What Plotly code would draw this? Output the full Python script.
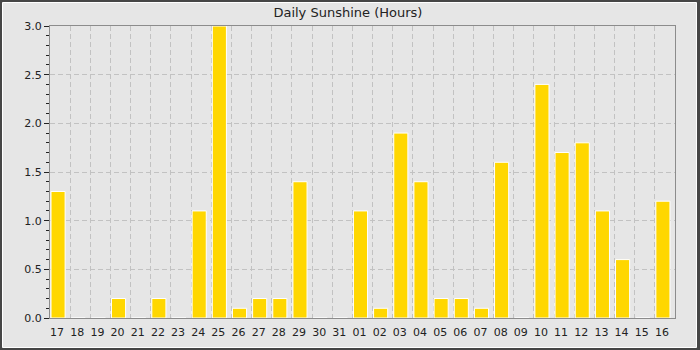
import plotly.graph_objects as go

days = ["17", "18", "19", "20", "21", "22", "23", "24", "25", "26", "27", "28", "29", "30", "31",
        "01", "02", "03", "04", "05", "06", "07", "08", "09", "10", "11", "12", "13", "14", "15", "16"]
sunshine = [1.3, 0.0, 0.0, 0.2, 0.0, 0.2, 0.0, 1.1, 3.0, 0.1, 0.2, 0.2, 1.4, 0.0, 0.0,
            1.1, 0.1, 1.9, 1.4, 0.2, 0.2, 0.1, 1.6, 0.0, 2.4, 1.7, 1.8, 1.1, 0.6, 0.0, 1.2]
y_ticks = [0.0, 0.5, 1.0, 1.5, 2.0, 2.5, 3.0]

W, H = 700, 350
L, R, T, B = 50, 25, 26, 32
pw, ph = W - L - R, H - T - B

def px_x(p):
    return (p - L) / pw

def px_y(p):
    return (H - B - p) / ph

fig = go.Figure()
fig.add_trace(go.Bar(
    x=days, y=sunshine,
    width=0.7, offset=-0.45,
    marker=dict(color="#ffd700", line=dict(color="white", width=1)),
    hoverinfo="x+y",
))

axis_color = "#8c8c8c"
grid_color = "#c2c2c2"
font = dict(family="DejaVu Sans", size=11, color="#222222")

fig.update_layout(
    width=W, height=H,
    margin=dict(l=L, r=R, t=T, b=B, pad=0, autoexpand=False),
    paper_bgcolor="#464646",
    plot_bgcolor="#e6e6e6",
    showlegend=False,
    font=font,
    bargap=0.3,
    title=dict(text="Daily Sunshine (Hours)", xref="container", yref="container",
               x=0.497, y=1 - 12 / H, xanchor="center", yanchor="middle",
               font=dict(family="DejaVu Sans", size=13, color="#222222")),
    shapes=[dict(type="rect", xref="paper", yref="paper", layer="below",
                 x0=px_x(2.5), x1=px_x(696.5), y0=px_y(347.5), y1=px_y(2.5),
                 fillcolor="#e6e6e6", line=dict(color="white", width=1))],
    xaxis=dict(
        type="category", tickson="boundaries", ticks="", showgrid=True,
        gridcolor=grid_color, griddash="5px,3px", gridwidth=1,
        showline=True, linecolor=axis_color, linewidth=1, mirror=True,
        tickangle=0, automargin=False,
        ticklabelshift=-3, ticklabelstandoff=4,
        tickfont=font, fixedrange=True,
    ),
    yaxis=dict(
        range=[0, 3], tickvals=y_ticks, tickformat=".1f",
        ticks="outside", ticklen=5, tickcolor="#222222", tickwidth=1,
        minor=dict(dtick=0.1, ticks="outside", ticklen=3, tickcolor="#222222", showgrid=False),
        showgrid=True, gridcolor=grid_color, griddash="5px,3px", gridwidth=1,
        showline=True, linecolor=axis_color, linewidth=1, mirror=True,
        zeroline=False, tickfont=font, fixedrange=True, automargin=False,
    ),
)

fig.write_html("out.html")
